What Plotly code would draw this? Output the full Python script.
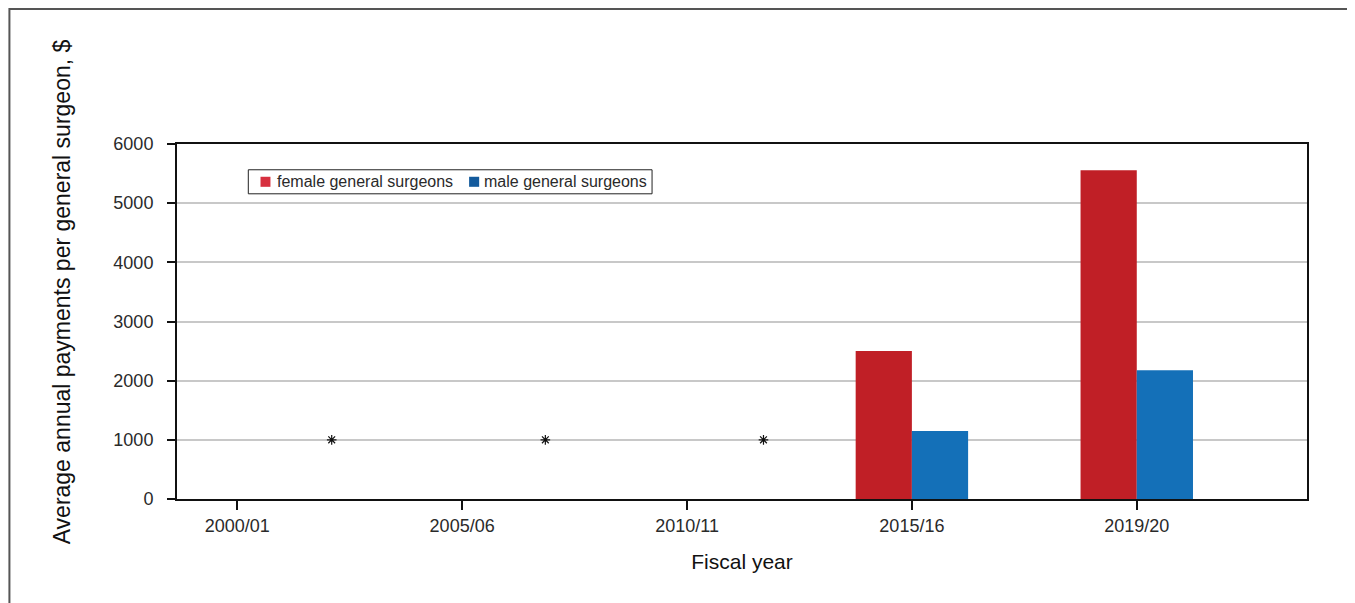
import plotly.graph_objects as go

categories = ["2000/01", "2005/06", "2010/11", "2015/16", "2019/20"]
female_values = [None, None, None, 2500, 5555]
male_values = [None, None, None, 1150, 2175]
suppressed_x = [0.42, 1.37, 2.34]
suppressed_y = [1000, 1000, 1000]
y_ticks = [0, 1000, 2000, 3000, 4000, 5000, 6000]
series_names = ["female general surgeons", "male general surgeons"]
y_title = "Average annual payments per general surgeon, $"
x_title = "Fiscal year"

RED = "#C01F26"
BLUE = "#1470B8"
RED_KEY = "#D7303F"
BLUE_KEY = "#135A9C"
FONT = "Liberation Sans, Arial, sans-serif"
TXT = "#2a2a2a"

xpos = list(range(len(categories)))

fig = go.Figure()
fig.add_trace(go.Bar(x=xpos, y=female_values, name=series_names[0],
                     marker=dict(color=RED, line=dict(width=0)), showlegend=False))
fig.add_trace(go.Bar(x=xpos, y=male_values, name=series_names[1],
                     marker=dict(color=BLUE, line=dict(width=0)), showlegend=False))
fig.add_trace(go.Scatter(x=suppressed_x, y=suppressed_y, mode="markers",
                         marker=dict(symbol="asterisk-open", size=8, color="#111111",
                                     line=dict(color="#111111", width=1.2)),
                         showlegend=False, hoverinfo="skip"))

shapes = [
    dict(type="rect", xref="paper", yref="paper",
         x0=-0.1483, x1=1.0387, y0=-0.35, y1=1.380,
         line=dict(color="#555555", width=2), layer="below"),
    dict(type="rect", xref="paper", yref="paper",
         x0=0.0631, x1=0.4204, y0=0.8597, y1=0.9274,
         line=dict(color="#222222", width=1), fillcolor="white", layer="above"),
    dict(type="rect", xref="paper", yref="paper",
         x0=0.0739, x1=0.0827, y0=0.8794, y1=0.9077,
         line=dict(width=0), fillcolor=RED_KEY, layer="above"),
    dict(type="rect", xref="paper", yref="paper",
         x0=0.2585, x1=0.2674, y0=0.8794, y1=0.9077,
         line=dict(width=0), fillcolor=BLUE_KEY, layer="above"),
]
annotations = [
    dict(xref="paper", yref="paper", x=0.0870, y=0.8936, xanchor="left", yanchor="middle",
         text=series_names[0], showarrow=False, font=dict(size=16, color=TXT)),
    dict(xref="paper", yref="paper", x=0.2700, y=0.8936, xanchor="left", yanchor="middle",
         text=series_names[1], showarrow=False, font=dict(size=16, color=TXT)),
    dict(xref="paper", yref="paper", x=-0.1015, y=0.583, xanchor="center", yanchor="middle",
         text=y_title, textangle=-90, showarrow=False,
         font=dict(size=23, color="#111111")),
]

fig.update_layout(
    width=1347, height=595,
    margin=dict(l=169, r=48, t=136, b=104),
    paper_bgcolor="white", plot_bgcolor="white",
    barmode="group", bargap=0.5, bargroupgap=0,
    font=dict(family=FONT, color=TXT, size=18),
    showlegend=False,
    shapes=shapes,
    annotations=annotations,
)

fig.update_xaxes(
    range=[-0.268, 4.757], tickmode="array", tickvals=xpos, ticktext=categories,
    ticks="outside", ticklen=9, tickcolor="#111111", tickwidth=1.5,
    showline=True, linecolor="#111111", linewidth=2, mirror=True,
    showgrid=False, zeroline=False,
    tickfont=dict(size=18, color=TXT),
    title=dict(text=x_title, font=dict(size=21, color="#111111"), standoff=20),
)
fig.update_yaxes(
    range=[0, 6000], tickmode="array", tickvals=y_ticks,
    ticks="outside", ticklen=8, tickcolor="#111111", tickwidth=1.5,
    showline=True, linecolor="#111111", linewidth=2, mirror=True,
    showgrid=True, gridcolor="#C8C8C8", gridwidth=2, zeroline=False,
    tickfont=dict(size=18, color=TXT), ticklabelstandoff=10,
)

fig.write_html("out.html")
